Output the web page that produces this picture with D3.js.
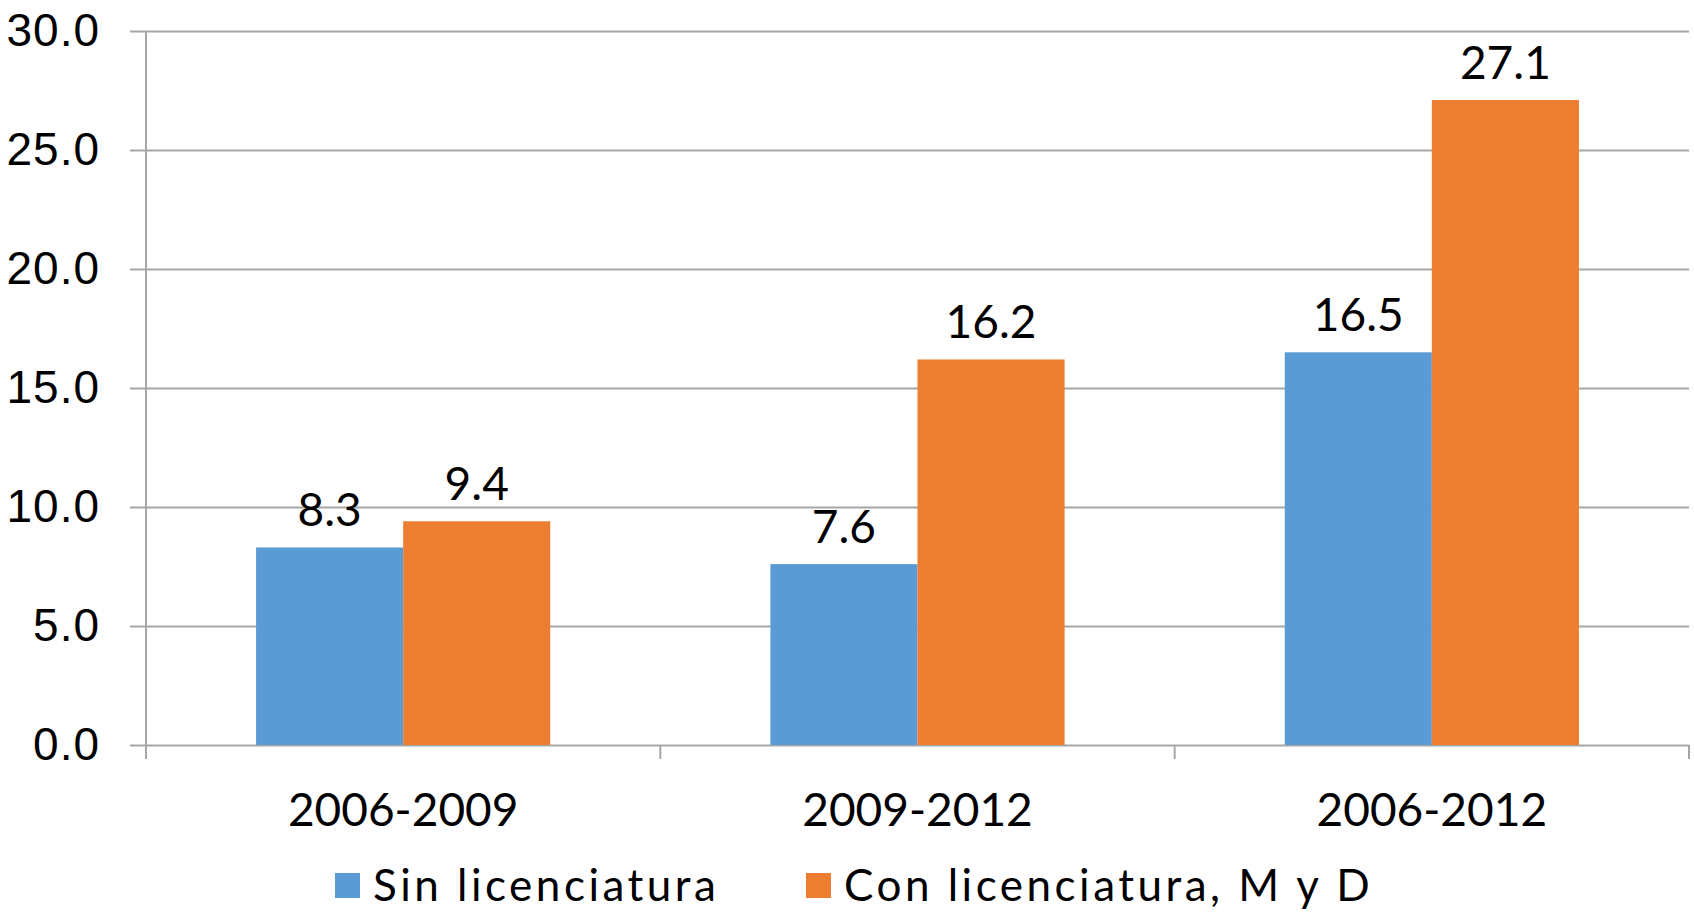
<!DOCTYPE html>
<html>
<head>
<meta charset="utf-8">
<script src="https://cdn.jsdelivr.net/npm/d3@7"></script>
<style>
  html, body { margin: 0; padding: 0; background: #fff; }
  svg { display: block; font-family: Lato, 'Open Sans', sans-serif; }
  .tick text { fill: #000; }
</style>
</head>
<body>
<svg id="chart"></svg>
<script>
const categories = ['2006-2009', '2009-2012', '2006-2012']
const seriesNames = ['Sin licenciatura', 'Con licenciatura, M y D']
const sinLic = [8.3, 7.6, 16.5]
const conLic = [9.4, 16.2, 27.1]
const yTicks = [0, 5, 10, 15, 20, 25, 30]
const colors = ['#5b9bd5', '#ed7d31']

const width = 1694
const height = 913
const margin = { top: 31, right: 5, bottom: 168, left: 146 }

const svg = d3.select('#chart')
  .attr('width', width)
  .attr('height', height)

const x0 = d3.scaleBand()
  .domain(categories)
  .range([margin.left, width - margin.right])
  .paddingInner(0.428)
  .paddingOuter(0.214)

const x1 = d3.scaleBand()
  .domain(seriesNames)
  .range([0, x0.bandwidth()])

const y = d3.scaleLinear()
  .domain([0, 30])
  .range([height - margin.bottom, margin.top])

// gridlines + y labels
const yAxis = svg.append('g')
  .attr('transform', `translate(${margin.left},0)`)
  .call(d3.axisLeft(y).tickValues(yTicks).tickFormat(d3.format('.1f'))
    .tickSize(-(width - margin.right - margin.left)).tickPadding(46))
yAxis.select('.domain').remove()
yAxis.selectAll('.tick line')
  .attr('x1', -16)
  .attr('stroke', '#a6a6a6')
  .attr('stroke-width', 2)
yAxis.selectAll('.tick text')
  .attr('font-size', 46)
  .attr('letter-spacing', 1)

// y axis line
svg.append('line')
  .attr('x1', margin.left).attr('x2', margin.left)
  .attr('y1', y(30)).attr('y2', y(0) + 14)
  .attr('stroke', '#a6a6a6').attr('stroke-width', 2)

const data = categories.map((c, i) => ({
  cat: c,
  values: [sinLic[i], conLic[i]]
}))

const group = svg.append('g')
  .selectAll('.group')
  .data(data)
  .enter().append('g')
  .attr('class', 'group')
  .attr('transform', d => `translate(${x0(d.cat)},0)`)

group.selectAll('rect')
  .data(d => d.values.map((v, i) => ({ name: seriesNames[i], v, i })))
  .enter().append('rect')
  .attr('x', d => x1(d.name))
  .attr('y', d => y(d.v))
  .attr('width', x1.bandwidth())
  .attr('height', d => y(0) - y(d.v))
  .attr('fill', d => colors[d.i])

group.selectAll('.label')
  .data(d => d.values.map((v, i) => ({ name: seriesNames[i], v, i })))
  .enter().append('text')
  .attr('class', 'label')
  .attr('x', d => x1(d.name) + x1.bandwidth() / 2)
  .attr('y', d => y(d.v) - 21)
  .attr('text-anchor', 'middle')
  .attr('font-size', 46)
  .text(d => d3.format('.1f')(d.v))

// x axis baseline + ticks
const xAxisY = y(0)
const bounds = [margin.left].concat(categories.map(c => x0(c) + x0.bandwidth() + x0.step() * x0.paddingOuter()))
svg.append('g')
  .selectAll('line')
  .data(bounds)
  .enter().append('line')
  .attr('x1', d => d).attr('x2', d => d)
  .attr('y1', xAxisY).attr('y2', xAxisY + 14)
  .attr('stroke', '#a6a6a6').attr('stroke-width', 2)

svg.append('g')
  .selectAll('text')
  .data(categories)
  .enter().append('text')
  .attr('x', d => x0(d) + x0.bandwidth() / 2)
  .attr('y', 826)
  .attr('text-anchor', 'middle')
  .attr('font-size', 46)
  .text(d => d)

// legend
const legendX = [335, 806]
const legend = svg.append('g')
  .selectAll('.legend')
  .data(seriesNames)
  .enter().append('g')
  .attr('class', 'legend')
  .attr('transform', (d, i) => `translate(${legendX[i]},873)`)

legend.append('rect')
  .attr('width', 25)
  .attr('height', 25)
  .attr('fill', (d, i) => colors[i])

legend.append('text')
  .attr('x', 38)
  .attr('y', 28)
  .attr('font-size', 44)
  .attr('letter-spacing', 3.5)
  .text(d => d)
</script>
</body>
</html>
